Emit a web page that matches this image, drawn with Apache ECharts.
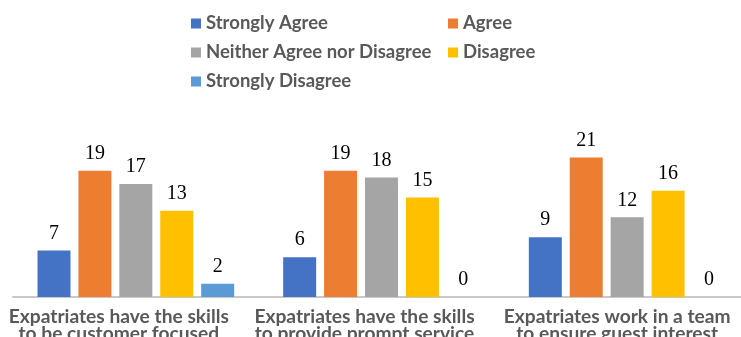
<!DOCTYPE html>
<html>
<head>
<meta charset="utf-8">
<script src="https://cdn.jsdelivr.net/npm/echarts@6/dist/echarts.min.js"></script>
<style>
  html, body { margin: 0; padding: 0; background: #ffffff; }
  #chart { width: 741px; height: 337px; }
</style>
</head>
<body>
<div id="chart"></div>
<script>
// Survey statements (x-axis categories)
const categories = [
  'Expatriates have the skills\nto be customer focused',
  'Expatriates have the skills\nto provide prompt service',
  'Expatriates work in a team\nto ensure guest interest'
];

// Response counts per answer option
const stronglyAgree = [7, 6, 9];
const agree = [19, 19, 21];
const neither = [17, 18, 12];
const disagree = [13, 15, 16];
const stronglyDisagree = [2, 0, 0];

const seriesNames = ['Strongly Agree', 'Agree', 'Neither Agree nor Disagree', 'Disagree', 'Strongly Disagree'];
const seriesValues = [stronglyAgree, agree, neither, disagree, stronglyDisagree];
const seriesColors = ['#4472C4', '#ED7D31', '#A5A5A5', '#FFC000', '#5B9BD5'];

const textFont = 'Lato, "Open Sans", sans-serif';
const textGrey = '#595959';

const chart = echarts.init(document.getElementById('chart'), null, { renderer: 'canvas' });

const legendText = {
  color: textGrey,
  fontFamily: textFont,
  fontWeight: 'bold',
  fontSize: 18.5,
  lineHeight: 18
};

// Shared style for the two-line category captions
const captionStyle = {
  color: textGrey,
  fontFamily: textFont,
  fontWeight: 'bold',
  fontSize: 19.2,
  lineHeight: 17
};

chart.setOption({
  animation: false,
  backgroundColor: '#ffffff',
  legend: [
    {
      data: [seriesNames[0], seriesNames[2], seriesNames[4]],
      orient: 'vertical',
      left: 191,
      top: 14,
      padding: 0,
      itemWidth: 10,
      itemHeight: 10,
      itemGap: 10,
      icon: 'rect',
      textStyle: legendText
    },
    {
      data: [seriesNames[1], seriesNames[3]],
      orient: 'vertical',
      left: 448,
      top: 14,
      padding: 0,
      itemWidth: 10,
      itemHeight: 10,
      itemGap: 10,
      icon: 'rect',
      textStyle: legendText
    }
  ],
  grid: {
    left: 13,
    top: 131,
    width: 737,
    height: 166,
    outerBoundsMode: 'none',
    containLabel: false
  },
  xAxis: {
    type: 'category',
    data: categories,
    axisLine: { show: true, lineStyle: { color: '#C9C9C9', width: 2 } },
    axisTick: { show: false },
    axisLabel: Object.assign({
      interval: 0,
      margin: 11,
      align: 'center',
      // captions sit slightly left of the bar groups; the last one is kept inside the frame
      formatter: (value, index) => (index === 2 ? '{r|' + value + '}' : '{l|' + value + '}'),
      rich: {
        l: Object.assign({ padding: [0, 34, 0, 0] }, captionStyle),
        r: Object.assign({ padding: [0, 20, 0, 0] }, captionStyle)
      }
    }, captionStyle)
  },
  yAxis: {
    type: 'value',
    min: 0,
    max: 25,
    show: false,
    splitLine: { show: false }
  },
  series: seriesNames.map((name, i) => ({
    name: name,
    type: 'bar',
    data: seriesValues[i],
    barWidth: 33,
    barGap: '24%',
    itemStyle: { color: seriesColors[i] },
    label: {
      show: true,
      position: 'top',
      distance: 7,
      color: '#000000',
      fontFamily: '"Liberation Serif", "Times New Roman", serif',
      fontSize: 20
    }
  }))
});
</script>
</body>
</html>
